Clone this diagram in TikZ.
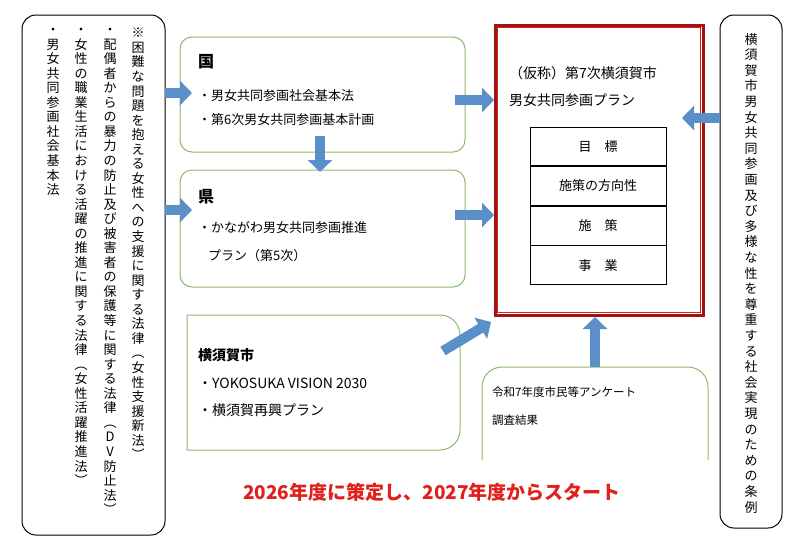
\documentclass[tikz,border=0pt]{standalone}
\usepackage{fontspec}
\setmainfont{Noto Sans CJK JP}
\usetikzlibrary{arrows.meta}
\definecolor{ab}{HTML}{5B8FC9}
\definecolor{gb}{HTML}{8DB86A}
\definecolor{rd}{HTML}{E0201B}
\def\vtx#1{\vtxaux#1\relax}
\def\vtxaux#1{\ifx\relax#1\else\hbox to 1em{\hss#1\hss}\expandafter\vtxaux\fi}
\newcommand\vcol[2]{\vbox{\baselineskip=#1\lineskiplimit=-10pt\vtx{#2}}}
\begin{document}
\begin{tikzpicture}[x=1pt,y=-1pt,
  gbox/.style={draw=gb,line width=1pt,rounded corners=12pt},
  bbox/.style={draw=black,line width=1pt,rounded corners=14pt},
  blk/.style={ab,line width=10pt,-{Triangle[width=24pt,length=12pt]}},
  txt/.style={anchor=west,inner sep=0pt,font=\fontsize{13}{15}\selectfont},
  vt/.style={anchor=north,inner sep=0pt,font=\fontsize{13}{14.5}\selectfont},
  cell/.style={draw,line width=0.8pt,minimum width=136pt,minimum height=38.75pt,font=\fontsize{13}{15}\selectfont,inner sep=0pt}]
\useasboundingbox (0,0) rectangle (800,550);
% left box
\draw[bbox] (22,15) rectangle (165,535);
\node[vt] (v1) at (138,28) {\vcol{14.55pt}{※困難な問題を抱える女性への支援に関する法律︵女性支援新法︶}};
\node[vt] (v2) at (110,28) {\vcol{14.55pt}{・配偶者からの暴力の防止及び被害者の保護等に関する法律︵DV防止法︶}};
\node[vt] (v3) at (81,28) {\vcol{14.55pt}{・女性の職業生活における活躍の推進に関する法律︵女性活躍推進法︶}};
\node[vt] (v4) at (53,28) {\vcol{14.55pt}{・男女共同参画社会基本法}};
% green boxes
\node[gbox,minimum width=285pt,minimum height=115pt] (K) at (322.5,94.5) {};
\node[txt,font=\fontsize{16}{18}\selectfont\bfseries] at (198,62) {国};
\node[txt] at (198,96) {・男女共同参画社会基本法};
\node[txt] at (198,120) {・第6次男女共同参画基本計画};
\node[gbox,minimum width=285pt,minimum height=117pt] (P) at (322.5,228.5) {};
\node[txt,font=\fontsize{16}{18}\selectfont\bfseries] at (198,197) {県};
\node[txt] at (198,228) {・かながわ男女共同参画推進};
\node[txt] at (208,256) {プラン（第5次）};
\draw[draw=gb,line width=1pt] (187,450) -- (187,315) {[rounded corners=20pt] -- (460,315) -- (460,450)} -- cycle;
\node[txt,font=\fontsize{14}{16}\selectfont\bfseries] at (198,355) {横須賀市};
\node[txt,font=\fontsize{14}{16}\selectfont] at (198,383) {・YOKOSUKA VISION 2030};
\node[txt,font=\fontsize{14}{16}\selectfont] at (198,410) {・横須賀再興プラン};
\draw[draw=gb,line width=1pt,rounded corners=20pt] (482,460) -- (482,367) -- (708,367) -- (708,460);
\node[txt,font=\fontsize{11.5}{14}\selectfont] at (492,392) {令和7年度市民等アンケート};
\node[txt,font=\fontsize{11.5}{14}\selectfont] at (492,420) {調査結果};
% red box
\draw[draw=rd!70!black,line width=3pt] (495,25) rectangle (703,315);
\draw[draw=rd,line width=1.2pt] (497.5,27.5) rectangle (700.5,312.5);
\node[txt,font=\fontsize{14}{16}\selectfont] at (509,73) {（仮称）第7次横須賀市};
\node[txt,font=\fontsize{14}{16}\selectfont] at (509,100) {男女共同参画プラン};
\node[cell] (c1) at (598,146.5) {目\hspace{1em}標};
\node[cell,anchor=north] (c2) at (c1.south) {施策の方向性};
\node[cell,anchor=north] (c3) at (c2.south) {施\hspace{1em}策};
\node[cell,anchor=north] (c4) at (c3.south) {事\hspace{1em}業};
% right box
\draw[bbox] (720,15) rectangle (782,528);
\node[vt,font=\fontsize{13}{15}\selectfont] (C) at (751,33) {\vcol{15.6pt}{横須賀市男女共同参画及び多様な性を尊重する社会実現のための条例}};
% arrows
\coordinate (a1) at (165,93); \coordinate (a1e) at (192,93);
\coordinate (a2) at (165,210); \coordinate (a2e) at (192,210);
\draw[blk] (a1) -- (a1e);
\draw[blk] (a2) -- (a2e);
\coordinate (d1) at (320,136); \coordinate (d1e) at (320,172);
\draw[blk] (d1) -- (d1e);
\coordinate (r1) at (455,100); \coordinate (r1e) at (494,100);
\coordinate (r2) at (455,215); \coordinate (r2e) at (494,215);
\draw[blk] (r1) -- (r1e);
\draw[blk] (r2) -- (r2e);
\coordinate (dg) at (443,351); \coordinate (dge) at (491,322);
\draw[blk] (dg) -- (dge);
\coordinate (u1) at (595,367); \coordinate (u1e) at (595,317);
\draw[blk] (u1) -- (u1e);
\coordinate (l1) at (720,118); \coordinate (l1e) at (682,118);
\draw[blk] (l1) -- (l1e);
% bottom text
\node[inner sep=0pt,text=rd,font=\fontsize{19}{22}\selectfont\bfseries] at (432,492) {2026年度に策定し、2027年度からスタート};
\end{tikzpicture}
\end{document}
